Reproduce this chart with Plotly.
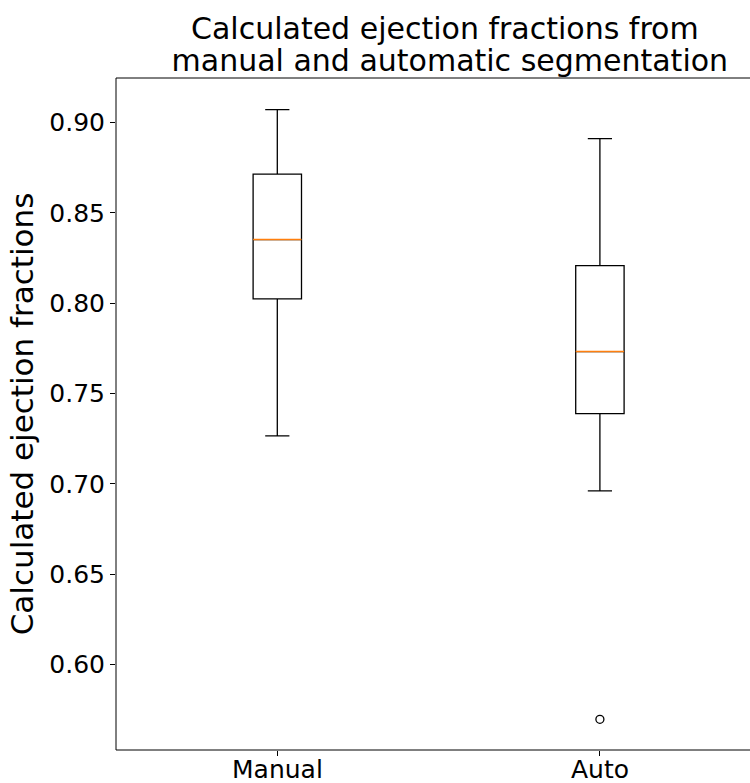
import plotly.graph_objects as go

categories = ["Manual", "Auto"]
positions = [1, 2]
upper_whisker = [0.9071, 0.8910]
q3 = [0.8714, 0.8208]
median = [0.8352, 0.7732]
q1 = [0.8024, 0.7389]
lower_whisker = [0.7265, 0.6961]
outlier_pos = [2]
outlier_vals = [0.5697]
yticks = [0.60, 0.65, 0.70, 0.75, 0.80, 0.85, 0.90]
title_lines = ["Calculated ejection fractions from", " manual and automatic segmentation"]

BOX_W = 0.15
FONT = "DejaVu Sans"

fig = go.Figure()
fig.add_trace(go.Box(
    x=positions, q1=q1, median=median, q3=q3,
    lowerfence=lower_whisker, upperfence=upper_whisker,
    width=BOX_W, whiskerwidth=0.5,
    fillcolor="rgba(0,0,0,0)",
    line=dict(color="black", width=1.3),
    boxpoints=False, showlegend=False, hoverinfo="skip",
))
for p, m in zip(positions, median):
    fig.add_trace(go.Scatter(
        x=[p - BOX_W / 2, p + BOX_W / 2], y=[m, m], mode="lines",
        line=dict(color="#ff7f0e", width=1.5), showlegend=False, hoverinfo="skip",
    ))
fig.add_trace(go.Scatter(
    x=outlier_pos, y=outlier_vals, mode="markers",
    marker=dict(symbol="circle-open", size=8, color="black", line=dict(width=1.3)),
    showlegend=False, hoverinfo="skip",
))

W, H = 750, 783
left, right, top, bottom = 116, 750, 78, 750
pw, ph = right - left, bottom - top


def ypaper(px):
    return 1 + (top - px) / ph


for txt, ypx in zip(title_lines, [28, 61]):
    fig.add_annotation(
        text=txt, xref="paper", yref="paper",
        x=(445 - left) / pw, y=ypaper(ypx),
        xanchor="center", yanchor="middle", showarrow=False,
        font=dict(size=30, family=FONT, color="black"),
    )

# x tick labels placed just under the axis
for p, c in zip(positions, categories):
    fig.add_annotation(
        text=c, xref="x", yref="paper", x=p, y=ypaper(770),
        xanchor="center", yanchor="middle", showarrow=False,
        font=dict(size=25, family=FONT, color="black"),
    )

# spines: left, bottom, top (right spine lies outside the picture)
spine = dict(color="black", width=1)
fig.add_shape(type="line", xref="paper", yref="paper", x0=0, x1=1, y0=1, y1=1, line=spine, layer="above")
fig.add_shape(type="line", xref="paper", yref="paper", x0=0, x1=1, y0=0, y1=0, line=spine, layer="above")
fig.add_shape(type="line", xref="paper", yref="paper", x0=0, x1=0, y0=0, y1=1, line=spine, layer="above")

fig.update_layout(
    width=W, height=H,
    margin=dict(l=left, r=W - right, t=top, b=H - bottom, autoexpand=False),
    paper_bgcolor="white", plot_bgcolor="white",
    dragmode=False,
    font=dict(family=FONT, color="black", size=25),
    xaxis=dict(
        range=[0.5, 0.5 + pw / 322.6],
        tickvals=positions, showticklabels=False,
        showgrid=False, zeroline=False, showline=False,
        ticks="outside", ticklen=5, tickcolor="black",
    ),
    yaxis=dict(
        range=[0.5527, 0.9246],
        tickvals=yticks, tickformat=".2f",
        showgrid=False, zeroline=False, showline=False,
        ticks="outside", ticklen=5, tickcolor="black",
        tickfont=dict(size=25),
        title=dict(text="Calculated ejection fractions", font=dict(size=31), standoff=6),
    ),
)

fig.write_html("out.html", config={"staticPlot": True, "displayModeBar": False})
